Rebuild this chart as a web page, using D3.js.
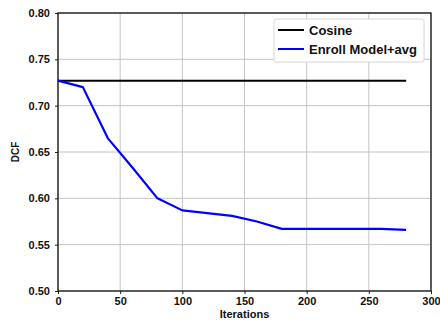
<!DOCTYPE html>
<html>
<head>
<meta charset="utf-8">
<script src="https://d3js.org/d3.v7.min.js"></script>
<style>
  body { margin: 0; background: #fff; }
  svg text { font-family: "Liberation Sans", Arial, sans-serif; font-weight: bold; fill: #111; }
</style>
</head>
<body>
<svg id="chart" width="440" height="320"></svg>
<script>
// values
const iterations = [0, 20, 40, 60, 80, 100, 140, 160, 180, 260, 280];
const enrollAvg = [0.727, 0.720, 0.665, 0.633, 0.600, 0.587, 0.581, 0.575, 0.567, 0.567, 0.566];
const cosineX = [0, 280];
const cosineY = [0.727, 0.727];
const xTicks = [0, 50, 100, 150, 200, 250, 300];
const yTicks = [0.50, 0.55, 0.60, 0.65, 0.70, 0.75, 0.80];
const seriesNames = ["Cosine", "Enroll Model+avg"];
const seriesColors = ["#000000", "#0000ff"];

var svg = d3.select("#chart");
var margin = {left: 58, right: 9, top: 13, bottom: 29};
var W = 440, H = 320;
var x = d3.scaleLinear().domain([0, 300]).range([margin.left, W - margin.right]);
var y = d3.scaleLinear().domain([0.5, 0.8]).range([H - margin.bottom, margin.top]);

// grid
var grid = svg.append("g").attr("stroke", "#c4c4c4").attr("stroke-width", 1);
grid.selectAll(".gx").data(xTicks).enter().append("line")
    .attr("x1", d => x(d)).attr("x2", d => x(d))
    .attr("y1", y(0.5)).attr("y2", y(0.8));
grid.selectAll(".gy").data(yTicks).enter().append("line")
    .attr("x1", x(0)).attr("x2", x(300))
    .attr("y1", d => y(d)).attr("y2", d => y(d));

// axes
var xAxis = svg.append("g").attr("transform", "translate(0," + y(0.5) + ")")
    .call(d3.axisBottom(x).tickValues(xTicks).tickSize(3).tickPadding(3).tickFormat(d3.format("d")));
var yAxis = svg.append("g").attr("transform", "translate(" + x(0) + ",0)")
    .call(d3.axisLeft(y).tickValues(yTicks).tickSize(3).tickPadding(5).tickFormat(d3.format(".2f")));
[xAxis, yAxis].forEach(function(a) {
    a.select(".domain").remove();
    a.selectAll("text").style("font-size", "11px").attr("fill", "#111");
    a.selectAll(".tick line").attr("stroke", "#222");
});

// frame
svg.append("rect")
    .attr("x", x(0)).attr("y", y(0.8))
    .attr("width", x(300) - x(0)).attr("height", y(0.5) - y(0.8))
    .attr("fill", "none").attr("stroke", "#111").attr("stroke-width", 1.3);

// series
var line = d3.line().x(d => x(d[0])).y(d => y(d[1]));
svg.append("path")
    .datum(d3.zip(cosineX, cosineY))
    .attr("d", line).attr("fill", "none")
    .attr("stroke", seriesColors[0]).attr("stroke-width", 2);
svg.append("path")
    .datum(d3.zip(iterations, enrollAvg))
    .attr("d", line).attr("fill", "none")
    .attr("stroke", seriesColors[1]).attr("stroke-width", 2.2)
    .attr("stroke-linejoin", "round");

// axis titles
svg.append("text")
    .attr("x", (x(0) + x(300)) / 2).attr("y", 318)
    .attr("text-anchor", "middle").style("font-size", "11px")
    .text("Iterations");
svg.append("text")
    .attr("transform", "translate(19," + y(0.65) + ") rotate(-90)")
    .attr("text-anchor", "middle").style("font-size", "10px")
    .text("DCF");

// legend
var lg = svg.append("g").attr("transform", "translate(274,19)");
lg.append("rect")
    .attr("width", 150).attr("height", 43).attr("rx", 2)
    .attr("fill", "#fff").attr("stroke", "#d6d6d6");
seriesNames.forEach(function(name, i) {
    var yy = 11 + i * 19;
    lg.append("line")
        .attr("x1", 4).attr("x2", 30).attr("y1", yy).attr("y2", yy)
        .attr("stroke", seriesColors[i]).attr("stroke-width", 2);
    lg.append("text")
        .attr("x", 35).attr("y", yy + 4.5)
        .style("font-size", "13px")
        .text(name);
});
</script>
</body>
</html>
